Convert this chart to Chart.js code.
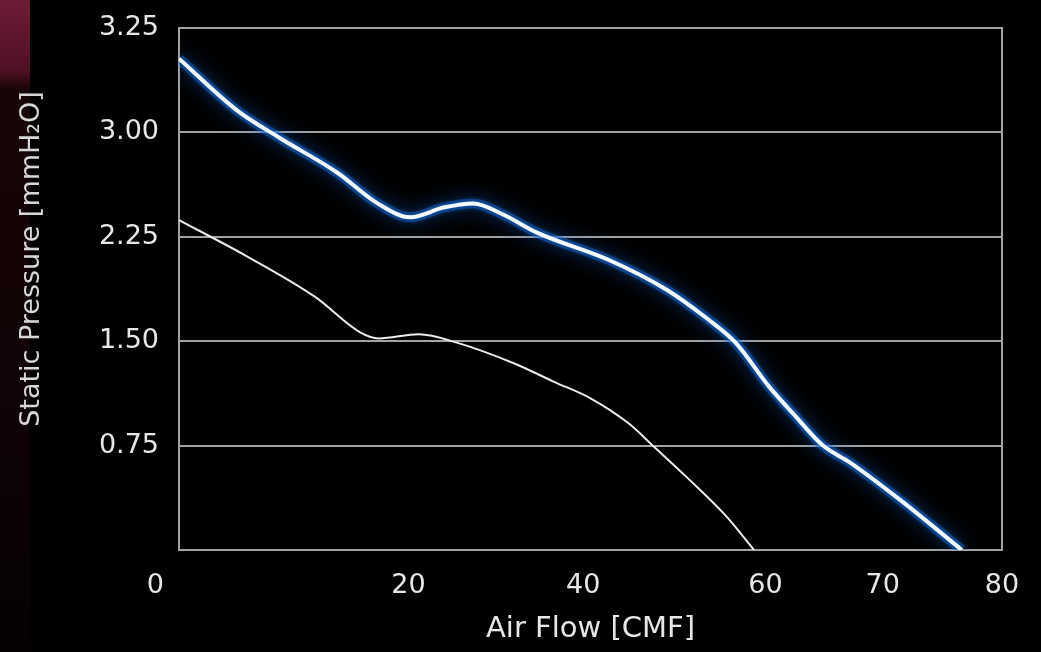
<!DOCTYPE html>
<html>
<head>
<meta charset="utf-8">
<script src="https://cdn.jsdelivr.net/npm/chart.js@4"></script>
<style>
  html, body { margin: 0; padding: 0; background: #000; }
  #caixa { position: relative; width: 1041px; height: 652px; overflow: hidden; background: #000; }
  #faixa {
    position: absolute; left: 0; top: 0; width: 30px; height: 652px;
    background: linear-gradient(to bottom, #7a1f3c 0px, #5a1228 70px, #1a0508 90px, #120306 400px, #050101 652px);
    opacity: 0.9;
  }
  #grafico { position: absolute; left: 0; top: 0; }
</style>
</head>
<body>
<div id="caixa">
  <div id="faixa"></div>
  <canvas id="grafico" width="1041" height="652"></canvas>
</div>
<script>
// curva de cima (com brilho azul)
const fluxoAlto = [0, 5.6, 9.8, 15.4, 19.3, 22.5, 25.7, 28.6, 31.5, 34.8, 41.9, 47.4, 51.2, 54.1, 57.4, 59.7, 62.6, 65.2, 70.1, 76.1];
const pressaoAlta = [3.53, 3.16, 2.96, 2.71, 2.49, 2.39, 2.46, 2.49, 2.41, 2.28, 2.08, 1.87, 1.67, 1.49, 1.17, 0.98, 0.75, 0.63, 0.36, 0];

// curva de baixo (linha branca fina)
const fluxoBaixo = [0, 6.6, 13.2, 17.7, 19.4, 23.3, 27.0, 32.6, 36.4, 40.0, 43.7, 46.2, 49.4, 53.1, 55.9];
const pressaoBaixa = [2.37, 2.11, 1.82, 1.56, 1.52, 1.55, 1.49, 1.34, 1.21, 1.09, 0.91, 0.74, 0.52, 0.25, 0];

// ticks do jeito que aparecem na figura
const posTicksX = [-2.3, 22.3, 39.3, 57.0, 68.4, 80];
const rotulosX = ["0", "20", "40", "60", "70", "80"];
const posTicksY = [0, 0.75, 1.5, 2.25, 3.0, 3.75];
const rotulosY = ["", "0.75", "1.50", "2.25", "3.00", "3.25"];

function montarPontos(xs, ys) {
  return xs.map((x, i) => ({ x: x, y: ys[i] }));
}

const corTexto = "#e6e6e6";
const corGrade = "#a2a2a2";
const fonte = "'DejaVu Sans', sans-serif";

// brilho azul: halo (dataset 0) e nucleo (dataset 1)
const brilho = {
  id: "brilho",
  beforeDatasetDraw(chart, args) {
    if (args.index > 1) return;
    const ctx = chart.ctx;
    ctx.save();
    ctx.shadowColor = "rgba(20, 110, 230, 0.95)";
    ctx.shadowBlur = args.index === 0 ? 20 : 6;
  },
  afterDatasetDraw(chart, args) {
    if (args.index > 1) return;
    chart.ctx.restore();
  }
};

const ctx = document.getElementById("grafico").getContext("2d");

new Chart(ctx, {
  type: "line",
  data: {
    datasets: [
      {
        label: "alto-halo",
        data: montarPontos(fluxoAlto, pressaoAlta),
        borderColor: "rgba(25, 100, 195, 0.45)",
        borderWidth: 10,
        pointRadius: 0,
        cubicInterpolationMode: "monotone",
        fill: false,
        order: 2
      },
      {
        label: "alto",
        data: montarPontos(fluxoAlto, pressaoAlta),
        borderColor: "#f2faff",
        borderWidth: 4,
        pointRadius: 0,
        cubicInterpolationMode: "monotone",
        fill: false,
        order: 0
      },
      {
        label: "baixo",
        data: montarPontos(fluxoBaixo, pressaoBaixa),
        borderColor: "#ececec",
        borderWidth: 2,
        pointRadius: 0,
        cubicInterpolationMode: "monotone",
        fill: false,
        order: 1
      }
    ]
  },
  options: {
    responsive: false,
    animation: false,
    events: [],
    layout: { padding: { top: 28, left: 0, right: 0, bottom: 0 } },
    plugins: {
      legend: { display: false },
      tooltip: { enabled: false }
    },
    scales: {
      x: {
        type: "linear",
        min: 0,
        max: 80,
        afterBuildTicks: (scale) => {
          scale.ticks = posTicksX.map((v) => ({ value: v }));
        },
        afterFit: (scale) => {
          scale.height = 102;
          scale.paddingLeft = 0;
          scale.paddingRight = 0;
        },
        grid: { display: false },
        border: { display: false },
        ticks: {
          autoSkip: false,
          maxRotation: 0,
          padding: 12,
          color: corTexto,
          font: { family: fonte, size: 27 },
          callback: (valor, i) => rotulosX[i]
        },
        title: {
          display: true,
          text: "Air Flow [CMF]",
          color: corTexto,
          font: { family: fonte, size: 29 },
          padding: { top: 0, bottom: 5 }
        }
      },
      y: {
        type: "linear",
        min: 0,
        max: 3.75,
        afterBuildTicks: (scale) => {
          scale.ticks = posTicksY.map((v) => ({ value: v }));
        },
        afterFit: (scale) => {
          scale.width = 179;
          scale.paddingTop = 0;
          scale.paddingBottom = 0;
        },
        grid: { color: corGrade, lineWidth: 2, drawTicks: false },
        border: { display: true, color: corGrade, width: 2 },
        ticks: {
          padding: 20,
          color: corTexto,
          font: { family: fonte, size: 27 },
          callback: (valor, i) => rotulosY[i]
        },
        title: {
          display: true,
          text: "       Static Pressure [mmH₂O]",
          color: "#d6d6d6",
          font: { family: fonte, size: 27 },
          padding: { top: 16, bottom: 0 }
        }
      },
      direita: {
        type: "linear",
        position: "right",
        afterFit: (scale) => {
          scale.width = 39;
          scale.paddingTop = 0;
          scale.paddingBottom = 0;
        },
        grid: { display: false },
        ticks: { display: false },
        border: { display: true, color: corGrade, width: 2 }
      }
    }
  },
  plugins: [brilho]
});
</script>
</body>
</html>
